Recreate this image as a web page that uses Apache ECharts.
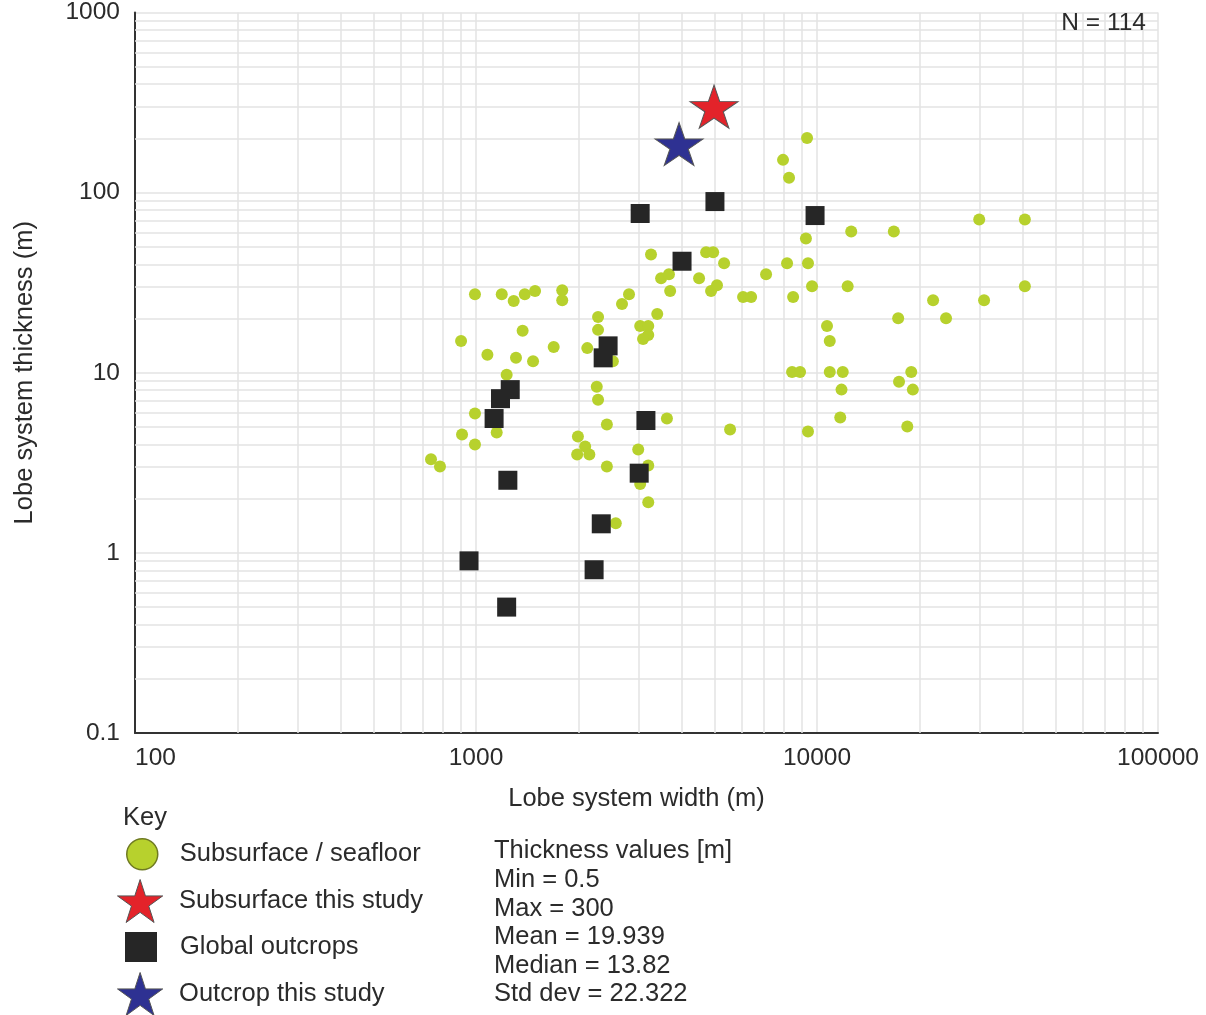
<!DOCTYPE html>
<html>
<head>
<meta charset="utf-8">
<script src="https://cdn.jsdelivr.net/npm/echarts@6/dist/echarts.min.js"></script>
<style>html,body{margin:0;padding:0;background:#fff}#c{width:1206px;height:1015px}</style>
</head>
<body>
<div id="c"></div>
<script>
// ---- data ----
const subsurfaceX = [3260,3490,3680,4510,3710,2810,2680,3400,993,1190,1290,1390,1490,1790,1790,2280,2280,3030,3200,3200,3090,1370,904,1080,1310,1470,1690,2120,2520,1230,2260,2280,993,1150,910,993,738,784,1990,2090,1980,2150,2420,2420,3630,2990,3200,3030,3200,2570,9350,7950,8280,29900,40700,12600,16800,9280,4730,4960,5340,8170,9410,7090,4890,5090,6070,6410,8510,9670,12300,40700,21900,30900,17300,23900,10700,10900,8450,8920,10900,11900,18900,17400,19100,11800,11700,18400,5560,9410];
const subsurfaceY = [45.4,33.5,35.2,33.5,28.4,27.3,24.1,21.2,27.3,27.3,25.0,27.3,28.4,28.7,25.3,20.4,17.3,18.2,18.2,16.2,15.4,17.1,15.0,12.6,12.1,11.6,13.9,13.7,11.6,9.75,8.37,7.09,5.94,4.66,4.54,4.00,3.31,3.02,4.43,3.90,3.52,3.52,5.16,3.02,5.57,3.75,3.06,2.41,1.91,1.46,201,152,121,70.9,70.9,60.9,60.9,55.7,46.6,46.6,40.5,40.5,40.5,35.2,28.4,30.6,26.3,26.3,26.3,30.2,30.2,30.2,25.3,25.3,20.1,20.1,18.2,15.0,10.1,10.1,10.1,10.1,10.1,8.92,8.06,8.06,5.64,5.03,4.84,4.72];
const outcropX = [3030,5020,9870,4020,2440,2360,1260,1180,1130,3150,3010,1240,2330,954,2220,1230];
const outcropY = [76.6,89.2,74.6,41.6,14.1,12.1,8.06,7.18,5.57,5.43,2.77,2.53,1.45,0.903,0.806,0.5];
const subsurfaceStudyX = [4990];
const subsurfaceStudyY = [300];
const outcropStudyX = [3940];
const outcropStudyY = [186];

const xMinorLines = [200,300,400,500,600,700,800,900,2000,3000,4000,5000,6000,7000,8000,9000,20000,30000,40000,50000,60000,70000,80000,90000];
const yMinorLines = [0.2,0.3,0.4,0.5,0.6,0.7,0.8,0.9,2,3,4,5,6,7,8,9,20,30,40,50,60,70,80,90,200,300,400,500,600,700,800,900];

const seriesNames = ['Subsurface / seafloor','Subsurface this study','Global outcrops','Outcrop this study'];
const xTitle = 'Lobe system width (m)';
const yTitle = 'Lobe system thickness (m)';
const countText = 'N = 114';
const keyText = 'Key';
const statsLines = ['Thickness values [m]','Min = 0.5','Max = 300','Mean = 19.939','Median = 13.82','Std dev = 22.322'];

// ---- drawing ----
const FONT = '"Liberation Sans", Arial, sans-serif';
const TXT = '#2b2b2b';
const GRIDC = '#e3e3e3';
const STAR = 'path://M50,0 L61.23,34.55 L97.55,34.55 L68.17,55.9 L79.39,90.45 L50,69.1 L20.61,90.45 L31.83,55.9 L2.45,34.55 L38.77,34.55 Z';
const zip = (xs, ys) => xs.map((x, i) => [x, ys[i]]);
const fmt = v => String(+Number(v).toPrecision(6));

const chart = echarts.init(document.getElementById('c'), null, {renderer: 'canvas'});

function legendFor(name, icon, w, h, left, top, pad, itemStyle) {
  const d = {name: name, icon: icon};
  if (itemStyle) d.itemStyle = itemStyle;
  return {
    data: [d], orient: 'vertical', left: left, top: top, padding: 0,
    itemWidth: w, itemHeight: h,
    textStyle: {fontSize: 25.5, color: TXT, fontFamily: FONT, padding: [0, 0, 0, pad]}
  };
}

chart.setOption({
  animation: false,
  backgroundColor: '#ffffff',
  textStyle: {fontFamily: FONT},
  grid: {left: 135, top: 8, width: 1023, height: 725},
  xAxis: {
    type: 'log', logBase: 10, min: 100, max: 100000, splitNumber: 3,
    name: xTitle, nameLocation: 'middle', nameGap: 53,
    nameTextStyle: {fontSize: 25.5, color: TXT, fontFamily: FONT, padding: [0, 20, 0, 0]},
    axisLine: {show: true, onZero: false, lineStyle: {color: '#333', width: 2}},
    axisTick: {show: false},
    axisLabel: {fontSize: 24.5, color: TXT, fontFamily: FONT, margin: 13, formatter: fmt, alignMinLabel: 'left'},
    splitLine: {show: true, lineStyle: {color: GRIDC, width: 1.5}}
  },
  yAxis: {
    type: 'log', logBase: 10, min: 0.1, max: 1000, splitNumber: 4,
    name: yTitle, nameLocation: 'middle', nameGap: 97,
    nameTextStyle: {fontSize: 25.5, color: TXT, fontFamily: FONT},
    axisLine: {show: true, onZero: false, lineStyle: {color: '#333', width: 2}},
    axisTick: {show: false},
    axisLabel: {fontSize: 24.5, color: TXT, fontFamily: FONT, margin: 15, formatter: fmt},
    splitLine: {show: true, lineStyle: {color: GRIDC, width: 1.5}}
  },
  legend: [
    legendFor(seriesNames[0], 'circle', 31, 33, 126, 838, 17, {borderColor: '#6f7a22', borderWidth: 1.5}),
    legendFor(seriesNames[1], STAR, 48, 43, 117, 879, 10, {borderColor: '#555', borderWidth: 1}),
    legendFor(seriesNames[2], 'rect', 32, 30, 125, 932, 18, null),
    legendFor(seriesNames[3], STAR, 48, 43, 117, 972, 10, {borderColor: '#555', borderWidth: 1})
  ],
  graphic: [
    {type: 'text', z: 100, x: 1146, y: 23, style: {text: countText, font: '24.5px ' + FONT, fill: TXT, align: 'right', verticalAlign: 'middle'}},
    {type: 'text', z: 100, x: 123, y: 818, style: {text: keyText, font: '25.5px ' + FONT, fill: TXT, align: 'left', verticalAlign: 'middle'}},
    {type: 'text', z: 100, x: 494, y: 837, style: {text: statsLines.join('\n'), font: '25.5px ' + FONT, fill: TXT, lineHeight: 28.6, align: 'left', verticalAlign: 'top'}}
  ],
  series: [
    {
      type: 'scatter', data: [], z: 1, silent: true,
      markLine: {
        z: 1, silent: true, symbol: ['none', 'none'], label: {show: false},
        lineStyle: {color: GRIDC, width: 1.5, type: 'solid'},
        emphasis: {disabled: true},
        data: xMinorLines.map(v => ({xAxis: v})).concat(yMinorLines.map(v => ({yAxis: v})))
      }
    },
    {
      name: seriesNames[0], type: 'scatter', z: 3,
      symbol: 'circle', symbolSize: 12,
      itemStyle: {color: '#b7d12d', opacity: 1},
      data: zip(subsurfaceX, subsurfaceY)
    },
    {
      name: seriesNames[2], type: 'scatter', z: 4,
      symbol: 'rect', symbolSize: 19,
      itemStyle: {color: '#262626', opacity: 1},
      data: zip(outcropX, outcropY)
    },
    {
      name: seriesNames[1], type: 'scatter', z: 5,
      symbol: STAR, symbolSize: [48, 43],
      itemStyle: {color: '#e3232a', borderColor: '#555', borderWidth: 1, opacity: 1},
      data: zip(subsurfaceStudyX, subsurfaceStudyY)
    },
    {
      name: seriesNames[3], type: 'scatter', z: 5,
      symbol: STAR, symbolSize: [48, 43],
      itemStyle: {color: '#2e3192', borderColor: '#555', borderWidth: 1, opacity: 1},
      data: zip(outcropStudyX, outcropStudyY)
    }
  ]
});
</script>
</body>
</html>
